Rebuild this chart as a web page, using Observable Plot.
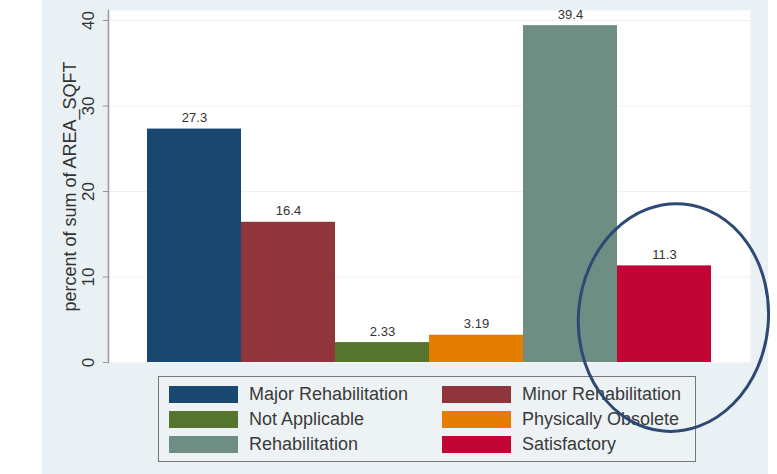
<!DOCTYPE html>
<html><head><meta charset="utf-8">
<script src="https://cdn.jsdelivr.net/npm/d3@7"></script>
<script src="https://cdn.jsdelivr.net/npm/@observablehq/plot@0.6"></script>
<style>
body{margin:0;background:#fff;font-family:"Liberation Sans",Arial,sans-serif;}
#wrap{position:relative;width:777px;height:474px;overflow:hidden;background:#fff;}
#bg{position:absolute;left:42px;top:0;width:726px;height:474px;background:#e9f1f4;}
#chart{position:absolute;left:0;top:0;}
#legend{position:absolute;left:158px;top:376px;width:538px;height:86px;border:1px solid #777;box-sizing:border-box;background:#edf3f5;}
.item{position:absolute;height:18px;display:flex;align-items:center;font-size:18px;color:#3a3a3a;white-space:nowrap;}
.sw{width:69px;height:17px;margin-right:11px;flex:none;}
#overlay{position:absolute;left:0;top:0;pointer-events:none;}
</style></head>
<body>
<div id="wrap"><div id="bg"></div><div id="chart"></div><div id="legend"></div><svg id="overlay" width="777" height="474"></svg></div>
<script>
const categories = ["Major Rehabilitation","Minor Rehabilitation","Not Applicable","Physically Obsolete","Rehabilitation","Satisfactory"];
const percents = [27.3, 16.4, 2.33, 3.19, 39.4, 11.3];
const valueLabels = ["27.3","16.4","2.33","3.19","39.4","11.3"];
const colors = ["#1a476f","#90353b","#55752f","#e37e00","#6e8e84","#c10534"];
const yTicks = [0, 10, 20, 30, 40];
const yLabel = "percent of sum of AREA_SQFT";
const highlighted = "Satisfactory";

const data = categories.map((c, i) => ({category: c, value: percents[i], label: valueLabels[i]}));

const plot = Plot.plot({
  width: 777, height: 374,
  marginLeft: 108, marginRight: 27, marginTop: 10, marginBottom: 12,
  style: {background: "transparent", fontFamily: "'Liberation Sans', Arial, sans-serif", overflow: "visible"},
  x: {domain: categories, paddingInner: 0, paddingOuter: 0.4, axis: null},
  y: {domain: [0, 41.17], axis: null},
  color: {domain: categories, range: colors},
  marks: [
    Plot.frame({fill: "#fff", stroke: null}),
    Plot.gridY(yTicks.slice(1), {stroke: "#edf1f3", strokeOpacity: 1}),
    Plot.barY(data, {x: "category", y: "value", fill: "category"}),
    Plot.text(data, {x: "category", y: "value", text: "label", dy: -11, fontSize: 13, fill: "#333"}),
    Plot.frame({anchor: "left", stroke: "#999", strokeWidth: 1.5}),
    Plot.axisY(yTicks, {tickSize: 5, text: null, label: null, stroke: "#999"}),
    Plot.text(yTicks, {y: d => d, text: d => String(d), frameAnchor: "left", textAnchor: "middle", dx: -20, rotate: -90, fontSize: 17, fill: "#333"}),
    Plot.text([yLabel], {text: d => d, frameAnchor: "left", textAnchor: "middle", dx: -38, rotate: -90, fontSize: 18, fill: "#333"})
  ]
});
document.getElementById("chart").appendChild(plot);

// legend
const legend = document.getElementById("legend");
const colLeft = [10, 283];
const rowTop = [8, 33, 58];
categories.forEach((c, i) => {
  const d = document.createElement("div");
  d.className = "item";
  d.style.left = colLeft[i % 2] + "px";
  d.style.top = rowTop[Math.floor(i / 2)] + "px";
  d.innerHTML = `<span class="sw" style="background:${colors[i]}"></span><span>${c}</span>`;
  legend.appendChild(d);
});

// highlight ellipse around the highlighted bar
const xs = plot.scale("x"), ys = plot.scale("y");
const cx = xs.apply(highlighted) + xs.bandwidth * 0.6;
const cy = ys.apply(5.2);
const ov = d3.select("#overlay");
ov.append("ellipse")
  .attr("cx", cx).attr("cy", cy).attr("rx", 95).attr("ry", 114)
  .attr("transform", `rotate(5 ${cx} ${cy})`)
  .attr("fill", "none").attr("stroke", "#2d4a74").attr("stroke-width", 3);
</script>
</body></html>
